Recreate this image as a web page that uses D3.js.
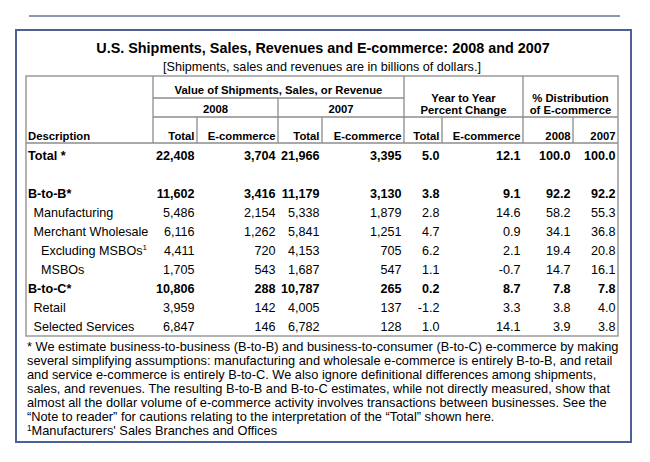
<!DOCTYPE html>
<html>
<head>
<meta charset="utf-8">
<script src="https://cdn.jsdelivr.net/npm/d3@7"></script>
<style>
  html, body { margin: 0; padding: 0; background: #fff; }
  svg { display: block; font-family: "Liberation Sans", Arial, Helvetica, sans-serif; }
</style>
</head>
<body>
<svg id="chart" width="650" height="462"></svg>
<script>
// ---------------- DATA ----------------
const titleText = "U.S. Shipments, Sales, Revenues and E-commerce: 2008 and 2007";
const subtitleText = "[Shipments, sales and revenues are in billions of dollars.]";

const rowLabels = ["Total *", "B-to-B*", "Manufacturing", "Merchant Wholesale", "Excluding MSBOs", "MSBOs", "B-to-C*", "Retail", "Selected Services"];
const rowLevels = [0, 0, 1, 1, 2, 2, 0, 1, 1];
const rowNoteMark = ["", "", "", "", "1", "", "", "", ""];

const total2008 = [22408, 11602, 5486, 6116, 4411, 1705, 10806, 3959, 6847];
const ecom2008  = [3704, 3416, 2154, 1262, 720, 543, 288, 142, 146];
const total2007 = [21966, 11179, 5338, 5841, 4153, 1687, 10787, 4005, 6782];
const ecom2007  = [3395, 3130, 1879, 1251, 705, 547, 265, 137, 128];
const yoyTotal  = [5.0, 3.8, 2.8, 4.7, 6.2, 1.1, 0.2, -1.2, 1.0];
const yoyEcom   = [12.1, 9.1, 14.6, 0.9, 2.1, -0.7, 8.7, 3.3, 14.1];
const dist2008  = [100.0, 92.2, 58.2, 34.1, 19.4, 14.7, 7.8, 3.8, 3.9];
const dist2007  = [100.0, 92.2, 55.3, 36.8, 20.8, 16.1, 7.8, 4.0, 3.8];

const groupHeaders = ["Value of Shipments, Sales, or Revenue"];
const yearHeaders = ["2008", "2007"];
const yoyHeader = ["Year to Year", "Percent Change"];
const distHeader = ["% Distribution", "of E-commerce"];
const subHeaders = ["Description", "Total", "E-commerce", "Total", "E-commerce", "Total", "E-commerce", "2008", "2007"];

const footnoteLines = [
  "* We estimate business-to-business (B-to-B) and business-to-consumer (B-to-C) e-commerce by making",
  "several simplifying assumptions: manufacturing and wholesale e-commerce is entirely B-to-B, and retail",
  "and service e-commerce is entirely B-to-C. We also ignore definitional differences among shipments,",
  "sales, and revenues. The resulting B-to-B and B-to-C estimates, while not directly measured, show that",
  "almost all the dollar volume of e-commerce activity involves transactions between businesses. See the",
  "\u201CNote to reader\u201D for cautions relating to the interpretation of the \u201CTotal\u201D shown here."
];
const sourceNote = { mark: "1", text: "Manufacturers' Sales Branches and Offices" };

// ---------------- LAYOUT ----------------
const svg = d3.select("#chart");
const colEdges = [26, 153, 197, 278, 322, 404, 442, 523, 573, 618];
const tableTop = 76, h1 = 98, h2 = 117, h3 = 143, tableBottom = 336;
const gridColor = "#8c8c8c";
const boxColor = "#4d6196";

const loc = d3.formatLocale({ decimal: ".", thousands: ",", grouping: [3], currency: ["$", ""], minus: "-" });
const fInt = loc.format(",");
const fDec = loc.format(".1f");

// background
svg.append("rect").attr("width", 650).attr("height", 462).attr("fill", "#fff");

// top rule
svg.append("line").attr("x1", 29).attr("x2", 620).attr("y1", 16).attr("y2", 16)
  .attr("stroke", "#6a7594").attr("stroke-width", 1.6);

// outer box
svg.append("rect").attr("x", 16).attr("y", 30).attr("width", 615).attr("height", 412)
  .attr("fill", "none").attr("stroke", boxColor).attr("stroke-width", 2);

// title
svg.append("text").attr("x", 323).attr("y", 52.5).attr("text-anchor", "middle")
  .attr("font-size", 14.4).attr("font-weight", "bold").attr("fill", "#000").text(titleText);
svg.append("text").attr("x", 322).attr("y", 71).attr("text-anchor", "middle")
  .attr("font-size", 12.6).attr("fill", "#000").text(subtitleText);

// ---------------- TABLE GRID ----------------
const grid = svg.append("g").attr("stroke", gridColor).attr("stroke-width", 1.3).attr("fill", "none");
grid.append("rect").attr("x", colEdges[0]).attr("y", tableTop)
  .attr("width", colEdges[9] - colEdges[0]).attr("height", tableBottom - tableTop);
const hLines = [
  { x1: colEdges[1], x2: colEdges[5], y: h1 },
  { x1: colEdges[1], x2: colEdges[9], y: h2 },
  { x1: colEdges[0], x2: colEdges[9], y: h3 }
];
grid.selectAll("line.h").data(hLines).join("line").attr("class", "h")
  .attr("x1", d => d.x1).attr("x2", d => d.x2).attr("y1", d => d.y).attr("y2", d => d.y);
const vLines = [
  { x: colEdges[1], y1: tableTop, y2: h3 },
  { x: colEdges[5], y1: tableTop, y2: h3 },
  { x: colEdges[7], y1: tableTop, y2: h3 },
  { x: colEdges[3], y1: h1, y2: h3 },
  { x: colEdges[2], y1: h2, y2: h3 },
  { x: colEdges[4], y1: h2, y2: h3 },
  { x: colEdges[6], y1: h2, y2: h3 },
  { x: colEdges[8], y1: h2, y2: h3 }
];
grid.selectAll("line.v").data(vLines).join("line").attr("class", "v")
  .attr("x1", d => d.x).attr("x2", d => d.x).attr("y1", d => d.y1).attr("y2", d => d.y2);

// ---------------- HEADERS ----------------
const hdr = svg.append("g").attr("font-size", 11.3).attr("font-weight", "bold").attr("fill", "#000");
hdr.append("text").attr("x", (colEdges[1] + colEdges[5]) / 2).attr("y", 94)
  .attr("text-anchor", "middle").text(groupHeaders[0]);
yearHeaders.forEach((t, i) => {
  hdr.append("text").attr("x", (colEdges[1 + 2 * i] + colEdges[3 + 2 * i]) / 2).attr("y", 113)
    .attr("text-anchor", "middle").text(t);
});
yoyHeader.forEach((t, i) => {
  hdr.append("text").attr("x", (colEdges[5] + colEdges[7]) / 2).attr("y", 102 + i * 12)
    .attr("text-anchor", "middle").text(t);
});
distHeader.forEach((t, i) => {
  hdr.append("text").attr("x", (colEdges[7] + colEdges[9]) / 2).attr("y", 102 + i * 12)
    .attr("text-anchor", "middle").text(t);
});
subHeaders.forEach((t, i) => {
  const right = i > 0;
  hdr.append("text")
    .attr("x", right ? colEdges[i + 1] - 2.5 : colEdges[0] + 2)
    .attr("y", 140)
    .attr("text-anchor", right ? "end" : "start").text(t);
});

// ---------------- BODY ----------------
const slotOf = i => (i === 0 ? 0 : i + 1);   // blank spacer row after "Total"
const y = d3.scaleLinear().domain([0, 9]).range([155, 326]);
const indent = d3.scaleOrdinal().domain([0, 1, 2]).range([2, 7.5, 15]);

const columns = [
  { vals: total2008, f: fInt }, { vals: ecom2008, f: fInt },
  { vals: total2007, f: fInt }, { vals: ecom2007, f: fInt },
  { vals: yoyTotal, f: fDec }, { vals: yoyEcom, f: fDec },
  { vals: dist2008, f: fDec }, { vals: dist2007, f: fDec }
];

const body = svg.append("g").attr("font-size", 12.6).attr("fill", "#000");
const rows = body.selectAll("g.row").data(rowLabels).join("g").attr("class", "row")
  .attr("transform", (d, i) => `translate(0,${y(slotOf(i))})`)
  .attr("font-weight", (d, i) => rowLevels[i] === 0 ? "bold" : "normal");

rows.append("text")
  .attr("x", (d, i) => colEdges[0] + indent(rowLevels[i]))
  .attr("dy", "0.36em")
  .each(function (d, i) {
    const t = d3.select(this);
    t.append("tspan").text(d);
    if (rowNoteMark[i]) {
      t.append("tspan").attr("font-size", 8).attr("dy", "-0.55em").text(rowNoteMark[i]);
    }
  });

columns.forEach((c, ci) => {
  rows.append("text")
    .attr("x", colEdges[ci + 2] - 2.5)
    .attr("dy", "0.36em")
    .attr("text-anchor", "end")
    .text((d, i) => c.f(c.vals[i]));
});

// ---------------- FOOTNOTES ----------------
const fn = svg.append("g").attr("font-size", 12.8).attr("fill", "#000");
const fy = d3.scaleLinear().domain([0, 6]).range([350.5, 435.5]);
fn.selectAll("text.fn").data(footnoteLines).join("text").attr("class", "fn")
  .attr("x", 27).attr("y", (d, i) => fy(i)).text(d => d);
const last = fn.append("text").attr("x", 27).attr("y", fy(6));
last.append("tspan").attr("font-size", 8.2).attr("dy", "-0.55em").text(sourceNote.mark);
last.append("tspan").attr("dy", "0.35em").text(sourceNote.text);
</script>
</body>
</html>
